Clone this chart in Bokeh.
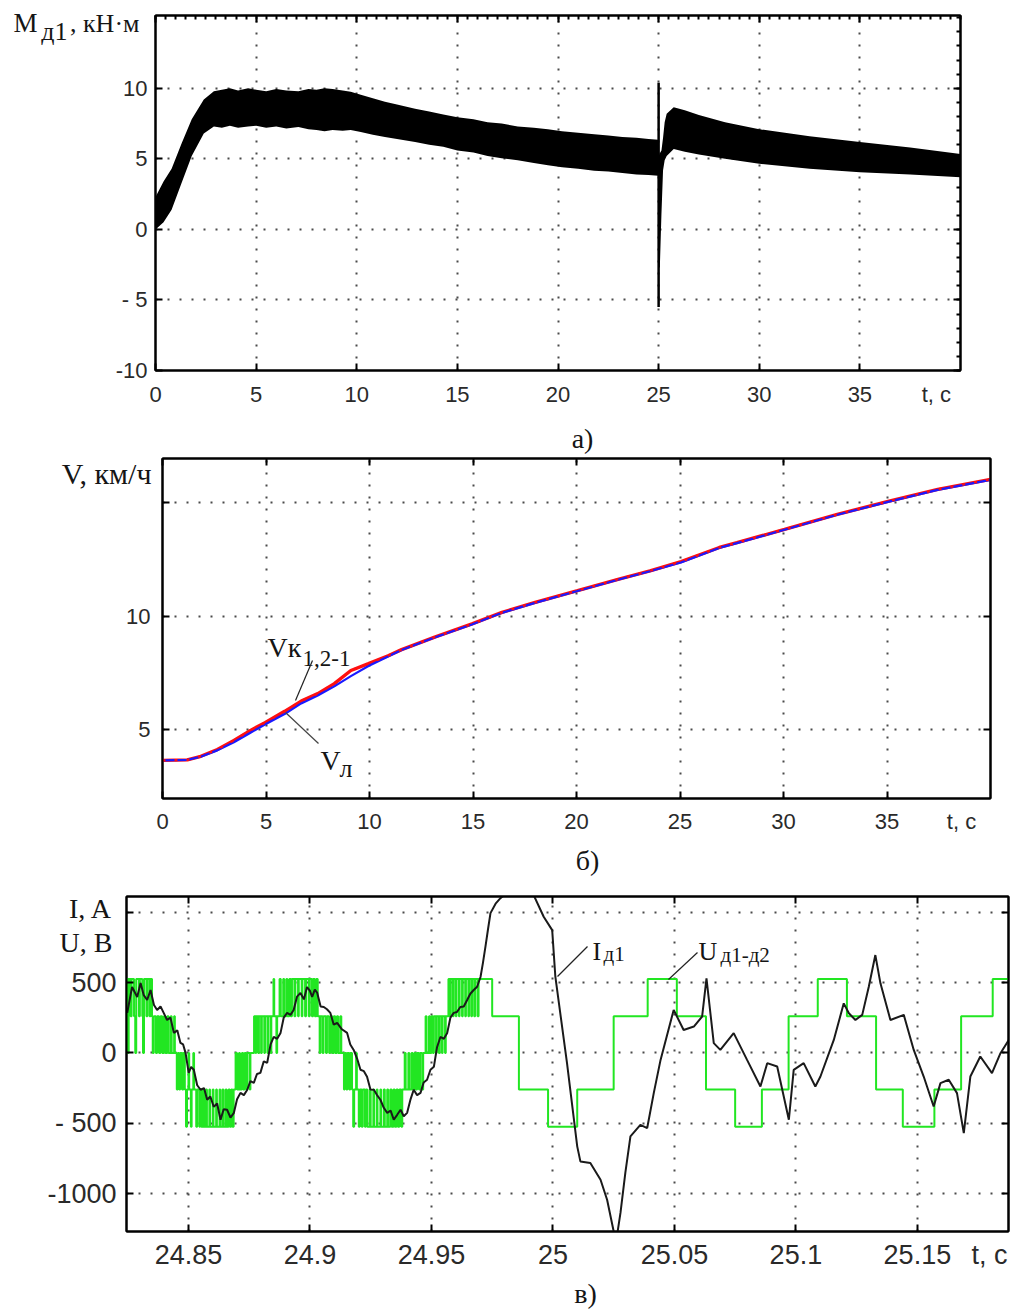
from bokeh.plotting import figure
from bokeh.models import (Range1d, FixedTicker, LinearAxis, Label, Arrow,
                          CustomJSTickFormatter)
from bokeh.layouts import column
from bokeh.embed import file_html
from bokeh.resources import INLINE

# ---------------- data: panel a (torque band, kN*m) ----------------
a1_t  = [0, 0.4, 0.8, 1.3, 1.8, 2.4, 2.9, 3.3, 3.7, 4.1, 4.6, 5.0, 5.5, 6.0, 6.5,
         7.1, 7.6, 8.0, 8.4, 8.8, 9.3, 9.7, 10.2, 10.8, 11.4, 12.0, 12.9, 13.6, 14.3,
         15.0, 15.8, 16.5, 17.2, 18.0, 18.8, 19.5, 20.2, 21.0, 21.8, 22.5, 23.2, 23.9,
         24.5, 24.98]
a1_hi = [2.3, 3.4, 4.3, 6.1, 7.8, 9.2, 9.8, 9.9, 10.0, 9.85, 10.0, 9.9, 9.8, 9.95, 9.85,
         9.8, 9.95, 9.9, 10.0, 9.95, 9.85, 9.75, 9.55, 9.3, 9.05, 8.85, 8.55, 8.35, 8.15,
         7.95, 7.8, 7.6, 7.5, 7.3, 7.2, 7.1, 6.95, 6.85, 6.75, 6.65, 6.55, 6.5,
         6.4, 6.35]
a1_lo = [0.0, 0.5, 1.4, 3.3, 5.2, 6.8, 7.3, 7.2, 7.35, 7.2, 7.3, 7.35, 7.2, 7.3, 7.15,
         7.25, 7.1, 7.05, 6.95, 7.05, 7.0, 7.05, 6.9, 6.7, 6.55, 6.4, 6.2, 6.0, 5.85,
         5.6, 5.45, 5.2, 5.05, 4.9, 4.7, 4.55, 4.4, 4.3, 4.15, 4.1, 4.0, 3.9,
         3.85, 3.8]
a2_t  = [25.0, 25.06, 25.14, 25.22, 25.3, 25.4, 25.75, 26.3, 27.0, 28.3, 30.0,
         32.5, 35.0, 37.5, 40.0]
a2_hi = [5.2, 5.4, 5.6, 6.5, 7.6, 8.2, 8.65, 8.45, 8.1, 7.6, 7.1, 6.6, 6.2, 5.8, 5.35]
a2_lo = [-2.7, -2.7, 1.1, 4.2, 4.9, 5.2, 5.7, 5.5, 5.3, 5.0, 4.65, 4.3, 4.05, 3.9, 3.7]
spike_t = [25.0, 25.0]
spike_v = [10.4, -5.5]
a_xticks = [0, 5, 10, 15, 20, 25, 30, 35]
a_yticks = [-10, -5, 0, 5, 10]

# ---------------- data: panel b (speed, km/h) ----------------
b_t  = [0, 1.2, 1.85, 2.65, 3.45, 4.25, 4.95, 5.9, 6.7, 7.5, 8.3, 9.1, 9.95, 10.9,
        11.55, 13.15, 14.95, 16.4, 18.0, 20.05, 22.05, 23.55, 25.05, 26.9, 27.75,
        30.05, 32.6, 35.1, 37.45, 40.0]
b_vl = [3.64, 3.66, 3.8, 4.08, 4.44, 4.86, 5.22, 5.68, 6.15, 6.5, 6.9, 7.35, 7.8,
        8.22, 8.5, 9.05, 9.63, 10.14, 10.58, 11.1, 11.61, 11.97, 12.36, 13.0, 13.21,
        13.8, 14.46, 15.04, 15.56, 16.0]
b_vk = [3.64, 3.66, 3.82, 4.12, 4.52, 4.96, 5.3, 5.8, 6.25, 6.58, 7.02, 7.6, 7.9,
        8.25, 8.52, 9.07, 9.65, 10.16, 10.6, 11.12, 11.63, 11.99, 12.4, 13.02, 13.23,
        13.82, 14.48, 15.06, 15.58, 16.02]
b_xticks = [0, 5, 10, 15, 20, 25, 30, 35]
b_yticks = [5, 10, 15]

# ---------------- data: panel c (current A / voltage V) ----------------
i_d1 = [
    (24.8248, 284), (24.8268, 468), (24.8289, 397), (24.8303, 496), (24.8316, 410),
    (24.8330, 376), (24.8344, 447), (24.8358, 340), (24.8371, 305), (24.8385, 330),
    (24.8398, 284), (24.8412, 234), (24.8426, 250), (24.8440, 142), (24.8454, 160),
    (24.8467, 71), (24.8478, 60), (24.8488, 0), (24.8501, -142), (24.8511, -100),
    (24.8522, -120), (24.8536, -230), (24.8550, -262), (24.8564, -250), (24.8577, -333),
    (24.8590, -310), (24.8604, -383), (24.8618, -360), (24.8632, -475), (24.8645, -400),
    (24.8659, -404), (24.8673, -460), (24.8687, -426), (24.8700, -330), (24.8714, -284),
    (24.8728, -300), (24.8742, -262), (24.8755, -200), (24.8769, -213), (24.8782, -150),
    (24.8796, -142), (24.8810, -60), (24.8824, -71), (24.8838, 60), (24.8851, 113),
    (24.8865, 100), (24.8879, 142), (24.8892, 250), (24.8906, 284), (24.8920, 270),
    (24.8933, 305), (24.8947, 400), (24.8961, 426), (24.8975, 380), (24.8988, 468),
    (24.9000, 440), (24.9009, 397), (24.9020, 450), (24.9030, 426), (24.9044, 330),
    (24.9057, 326), (24.9070, 310), (24.9084, 284), (24.9098, 200), (24.9112, 213),
    (24.9130, 170), (24.9153, 142), (24.9166, 60), (24.9180, 21), (24.9194, -40),
    (24.9208, -120), (24.9222, -130), (24.9235, -170), (24.9249, -260), (24.9263, -262),
    (24.9276, -300), (24.9290, -333), (24.9304, -390), (24.9318, -426), (24.9332, -410),
    (24.9345, -475), (24.9359, -440), (24.9373, -404), (24.9386, -450), (24.9400, -426),
    (24.9414, -330), (24.9427, -262), (24.9441, -300), (24.9455, -284), (24.9468, -210),
    (24.9482, -191), (24.9496, -120), (24.9510, -99), (24.9523, 40), (24.9537, 113),
    (24.9551, 100), (24.9565, 142), (24.9578, 250), (24.9592, 284), (24.9605, 290),
    (24.9619, 326), (24.9633, 330), (24.9647, 376), (24.9660, 420), (24.9674, 447),
    (24.9688, 470), (24.9702, 539), (24.9712, 640), (24.9722, 752), (24.9733, 880),
    (24.9743, 993), (24.9764, 1060), (24.9784, 1099), (24.9812, 1140), (24.9860, 1500),
    (24.9921, 1120), (24.9962, 967), (24.9997, 872), (25.0010, 541), (25.0058, -73),
    (25.0100, -664), (25.0113, -771), (25.0154, -782), (25.0196, -901), (25.0223, -1043),
    (25.0250, -1267), (25.0261, -1330), (25.0278, -1137), (25.0298, -853), (25.0319, -593),
    (25.0360, -511), (25.0388, -534), (25.0415, -286), (25.0443, -50), (25.0497, 305),
    (25.0538, 163), (25.0580, 187), (25.0614, 258), (25.0632, 530), (25.0662, 69),
    (25.0689, 21), (25.0744, 140), (25.0799, -50), (25.0854, -239), (25.0882, -73),
    (25.0923, -97), (25.0971, -475), (25.0991, -121), (25.1032, -73), (25.1080, -239),
    (25.1101, -168), (25.1156, 92), (25.1197, 352), (25.1218, 281), (25.1245, 234),
    (25.1273, 270), (25.1300, 470), (25.1327, 695), (25.1348, 494), (25.1389, 234),
    (25.1444, 270), (25.1485, 21), (25.1526, -168), (25.1567, -381), (25.1595, -215),
    (25.1629, -191), (25.1663, -286), (25.1691, -570), (25.1718, -168), (25.1759, -26),
    (25.1807, -144), (25.1842, -2), (25.1876, 92),
]
u_d1_d2 = [
    (24.8240, 525), (24.8250, 0), (24.8254, 525), (24.8262, 260), (24.8266, 525),
    (24.8276, 260), (24.8281, 0), (24.8285, 525), (24.8296, 260), (24.8300, 525),
    (24.8310, 260), (24.8313, 0), (24.8317, 525), (24.8327, 260), (24.8331, 525),
    (24.8340, 260), (24.8344, 525), (24.8350, 260),
    (24.8353, 0), (24.8357, 260), (24.8366, 0), (24.8371, 260), (24.8379, 0),
    (24.8385, 260), (24.8392, 0), (24.8399, 260), (24.8405, 0), (24.8413, 260),
    (24.8418, 0), (24.8427, 260), (24.8431, 0), (24.8441, 260), (24.8444, 0),
    (24.8452, -260), (24.8456, 0),
    (24.8462, -260), (24.8466, 0), (24.8474, -260), (24.8479, 0), (24.8485, -260),
    (24.8490, -525), (24.8494, -260), (24.8500, 0), (24.8503, -260), (24.8510, -525),
    (24.8513, -260), (24.8520, 0), (24.8523, -260), (24.8532, -525), (24.8536, -260),
    (24.8545, -525), (24.8548, -260),
    (24.8553, -525), (24.8560, -260), (24.8564, -525), (24.8572, -260), (24.8576, -525),
    (24.8586, -260), (24.8589, -525), (24.8600, -260), (24.8603, -525), (24.8614, -260),
    (24.8617, -525), (24.8628, -260), (24.8631, -525), (24.8640, -260), (24.8644, -525),
    (24.8653, -260), (24.8657, -525), (24.8665, -260), (24.8670, -525), (24.8676, -260),
    (24.8681, -525), (24.8686, -260),
    (24.8694, 0), (24.8700, -260), (24.8708, 0), (24.8712, -260), (24.8720, 0),
    (24.8725, -260), (24.8731, 0), (24.8738, -260), (24.8742, 0), (24.8752, -260),
    (24.8755, 0),
    (24.8770, 260), (24.8776, 0), (24.8779, 260), (24.8787, 0), (24.8790, 260),
    (24.8799, 0), (24.8802, 260), (24.8812, 0), (24.8815, 260), (24.8825, 0),
    (24.8828, 260), (24.8838, 0), (24.8841, 260), (24.8850, 525), (24.8853, 260),
    (24.8862, 0), (24.8865, 260), (24.8875, 525), (24.8880, 260),
    (24.8890, 525), (24.8894, 260), (24.8903, 525), (24.8907, 260), (24.8915, 525),
    (24.8921, 260), (24.8926, 525), (24.8936, 260), (24.8940, 525), (24.8951, 260),
    (24.8954, 525), (24.8966, 260), (24.8969, 525), (24.8980, 260), (24.8984, 525),
    (24.8995, 260), (24.8999, 525), (24.9008, 260), (24.9013, 525), (24.9020, 260),
    (24.9026, 525), (24.9032, 260),
    (24.9040, 0), (24.9043, 260), (24.9052, 0), (24.9056, 260), (24.9066, 0),
    (24.9070, 260), (24.9079, 0), (24.9084, 260), (24.9092, 0), (24.9098, 260),
    (24.9104, 0), (24.9111, 260), (24.9116, 0), (24.9125, 260), (24.9129, 0),
    (24.9140, -260), (24.9143, 0),
    (24.9150, -260), (24.9154, 0), (24.9162, -260), (24.9166, 0), (24.9173, -260),
    (24.9178, -525), (24.9182, -260), (24.9190, 0), (24.9193, -260), (24.9201, -525),
    (24.9205, -260), (24.9213, -525), (24.9217, -260), (24.9226, -525),
    (24.9230, -260), (24.9236, -525), (24.9246, -260), (24.9250, -525), (24.9261, -260),
    (24.9264, -525), (24.9275, -260), (24.9278, -525), (24.9290, -260), (24.9293, -525),
    (24.9304, -260), (24.9308, -525), (24.9318, -260), (24.9322, -525), (24.9331, -260),
    (24.9336, -525), (24.9344, -260), (24.9349, -525), (24.9356, -260), (24.9362, -525),
    (24.9368, -260), (24.9376, -525), (24.9380, -260),
    (24.9390, 0), (24.9394, -260), (24.9405, 0), (24.9409, -260), (24.9418, 0),
    (24.9423, -260), (24.9430, 0), (24.9436, -260), (24.9441, 0), (24.9449, -260),
    (24.9453, 0), (24.9462, -260), (24.9466, 0), (24.9476, 260), (24.9480, 0),
    (24.9490, 260), (24.9494, 0),
    (24.9500, 260), (24.9506, 0), (24.9510, 260), (24.9519, 0), (24.9522, 260),
    (24.9531, 0), (24.9534, 260), (24.9543, 0), (24.9546, 260), (24.9556, 0),
    (24.9559, 260),
    (24.9570, 525), (24.9575, 260), (24.9579, 525), (24.9588, 260), (24.9591, 525),
    (24.9600, 260), (24.9603, 525), (24.9613, 260), (24.9616, 525), (24.9626, 260),
    (24.9629, 525), (24.9639, 260), (24.9642, 525), (24.9652, 260), (24.9655, 525),
    (24.9664, 260), (24.9667, 525), (24.9676, 260), (24.9680, 525), (24.9690, 260),
    (24.9694, 525),
    (24.9750, 260), (24.9860, -260), (24.9980, -525), (25.0100, -260), (25.0250, 260),
    (25.0390, 525), (25.0510, 260), (25.0630, -260), (25.0750, -525), (25.0860, -260),
    (25.0970, 260), (25.1090, 525), (25.1210, 260), (25.1330, -260), (25.1440, -525),
    (25.1570, -260), (25.1680, 260), (25.1810, 525), (25.1900, 525),
]
i_t = [p[0] for p in i_d1]
i_v = [p[1] for p in i_d1]
u_t = [p[0] for p in u_d1_d2]
u_v = [p[1] for p in u_d1_d2]
c_xticks = [24.85, 24.9, 24.95, 25.0, 25.05, 25.1, 25.15]
c_yticks = [-1000, -500, 0, 500, 1000]

SERIF = "Liberation Serif"
SANS = "Liberation Sans"
TICK_COLOR = "#2a2a2a"
GRID_COLOR = "#4a4a4a"
TEXT_COLOR = "#151515"


def make_fig(height, xr, yr, left, right, top, bottom):
    p = figure(width=1018, height=height, x_range=Range1d(*xr), y_range=Range1d(*yr),
               output_backend="svg", toolbar_location=None,
               min_border_left=left, min_border_right=right,
               min_border_top=top, min_border_bottom=bottom)
    try:
        p.frame_align = False
    except Exception:
        pass
    p.outline_line_color = "black"
    p.outline_line_width = 2
    p.background_fill_color = "white"
    return p


def style_axis(ax, ticks, code, size, standoff, labels=True, minor=None, marks=None):
    ax.ticker = FixedTicker(ticks=ticks, minor_ticks=(marks if marks is not None else (minor or [])))
    ax.formatter = CustomJSTickFormatter(code=code)
    ax.axis_line_color = "black"
    ax.axis_line_width = 2
    ax.major_tick_in = 0 if marks is not None else 7
    ax.major_tick_out = 0
    ax.major_tick_line_width = 2
    ax.major_tick_line_color = "black"
    ax.minor_tick_in = 7 if marks is not None else (4 if minor else 0)
    ax.minor_tick_out = 0
    ax.minor_tick_line_width = 2
    ax.minor_tick_line_color = "black"
    ax.major_label_text_font = SANS
    ax.major_label_text_color = TICK_COLOR
    ax.major_label_standoff = standoff if labels else 0
    ax.major_label_text_font_size = f"{size}px" if labels else "0px"


def setup_axes(p, xt, tc_pos, yt, xcode, ycode, size, xst, yst, xminor=None, yminor=None):
    # bottom axis: numeric labels + "t, c" as an extra label; marks drawn as minor ticks
    style_axis(p.xaxis[0], xt + [tc_pos], xcode, size, xst, marks=xt)
    style_axis(p.yaxis[0], yt, ycode, size, yst)
    top = LinearAxis()
    right = LinearAxis()
    p.add_layout(top, "above")
    p.add_layout(right, "right")
    style_axis(top, xt, "return ''", size, 0, labels=False, minor=xminor)
    style_axis(right, yt, "return ''", size, 0, labels=False, minor=yminor)
    for g, t in ((p.xgrid[0], xt), (p.ygrid[0], yt)):
        g.ticker = FixedTicker(ticks=t)
        g.grid_line_color = GRID_COLOR
        g.grid_line_width = 2
        g.grid_line_dash = "2 10"


def label_axis(p, place, ticks, code, size, standoff, font=SERIF, color=TEXT_COLOR):
    ax = LinearAxis(ticker=FixedTicker(ticks=ticks), formatter=CustomJSTickFormatter(code=code))
    ax.axis_line_color = None
    ax.major_tick_in = 0
    ax.major_tick_out = 0
    ax.minor_tick_in = 0
    ax.minor_tick_out = 0
    ax.major_label_text_font = font
    ax.major_label_text_font_size = f"{size}px"
    ax.major_label_text_color = color
    ax.major_label_standoff = standoff
    p.add_layout(ax, place)


def text(p, sx, sy, s, size, font=SERIF, align="left", color=TEXT_COLOR):
    p.add_layout(Label(x=sx, y=sy, x_units="screen", y_units="screen", text=s,
                       text_font=font, text_font_size=f"{size}px", text_align=align,
                       text_baseline="alphabetic", text_color=color))


def leader(p, x0, y0, x1, y1, color="#222222", width=1.2):
    p.add_layout(Arrow(end=None, x_start=x0, y_start=y0, x_end=x1, y_end=y1,
                       start_units="screen", end_units="screen",
                       line_color=color, line_width=width))


# ---------------- panel a ----------------
pa = make_fig(456, (0, 40), (-10, 15.16), 155, 58, 15, 84)
setup_axes(pa, a_xticks, 38.8, a_yticks,
           "return tick > 38 ? 't, c' : tick.toString()",
           "return tick == -5 ? '- 5' : tick.toString()", 22, 11, 8,
           xminor=[k * 0.5 for k in range(0, 81)], yminor=list(range(-10, 16)))
pa.varea(x=a1_t, y1=a1_lo, y2=a1_hi, color="black")
pa.varea(x=a2_t, y1=a2_lo, y2=a2_hi, color="black")
pa.line(spike_t, spike_v, color="black", line_width=2.5)
label_axis(pa, "left", [14.58], "return ', кН·м'", 26, -27)
label_axis(pa, "left", [14.0], "return 'д1'", 26, -1)
label_axis(pa, "left", [14.6], "return 'M'", 27, 1)
label_axis(pa, "below", [21.22], "return 'а)'", 28, 13)

# ---------------- panel b ----------------
pb = make_fig(422, (0, 40), (1.96, 16.94), 162, 28, 2, 80)
setup_axes(pb, b_xticks, 38.6, b_yticks,
           "return tick > 38 ? 't, c' : tick.toString()",
           "return tick == 15 ? '' : tick.toString()", 22, 10, 12)
pb.line(b_t, b_vk, color="#ff1010", line_width=3.4)
pb.line(b_t, b_vl, color="#1a1aff", line_width=2.2)
pb.line(b_t, b_vk, color="#ff1010", line_width=2.2, line_dash="3 9")
label_axis(pb, "left", [16.32], "return 'V, км/ч'", 30, -28)
text(pb, 105, 151, "Vк", 28)
text(pb, 140, 140, "1,2-1", 23)
text(pb, 158, 38, "V", 28)
text(pb, 177, 30, "л", 26)
leader(pb, 150, 138, 133, 98)
leader(pb, 123, 86, 156, 55, color="#444444")
label_axis(pb, "below", [20.53], "return 'б)'", 28, 8)

# ---------------- panel c ----------------
pc = make_fig(433, (24.8245, 25.1875), (-1269, 1111), 126, 10, 18, 79)
setup_axes(pc, c_xticks, 25.1797, c_yticks,
           "return tick > 25.17 ? 't, c' : Number(tick.toFixed(2)).toString()",
           "return tick == 1000 ? '' : (tick == -500 ? '- 500' : tick.toString())",
           27, 8, 10)
pc.step(u_t, u_v, mode="after", color="#22e622", line_width=2)
pc.line(i_t, i_v, color="#1a1a1a", line_width=2)
label_axis(pc, "left", [781, 1029],
           "return tick > 900 ? 'I, A' : '\u00a0\u00a0\u00a0U, B'", 28, -68)
text(pc, 466, 280, "I", 26)
text(pc, 477, 278, "д1", 21)
text(pc, 572, 280, "U", 26)
text(pc, 594, 277, "д1-д2", 21)
leader(pc, 431, 255, 461, 285)
leader(pc, 542, 252, 571, 279)
label_axis(pc, "below", [25.0134], "return 'в)'", 28, 5)

layout = column(pa, pb, pc)
open("out.html", "w", encoding="utf-8").write(file_html(layout, INLINE))
